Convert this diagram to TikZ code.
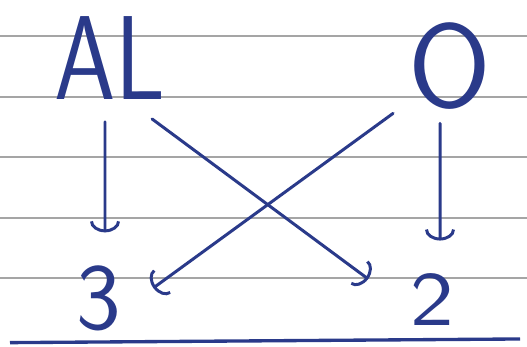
\documentclass[tikz,border=0pt]{standalone}
\usepackage{tikz}
\usetikzlibrary{arrows.meta, positioning, calc}
\usepackage{xcolor}
\definecolor{ink}{RGB}{42,58,138}
\definecolor{rule}{RGB}{165,165,165}

\begin{document}
\begin{tikzpicture}[
        sym/.style={inner sep=0pt, outer sep=0pt, text=ink, font=\sffamily\fontsize{#1}{#1}\selectfont},
        arrow/.style={-{Arc Barb[length=2.2mm, width=6mm]}, ink, line width=1.7pt, line cap=round}
    ]
    \useasboundingbox[fill=white] (0,0) rectangle (10.54,6.94);
    % ruled paper
    \foreach \y in {6.22, 5.0, 3.8, 2.58, 1.38}
        \draw[rule, line width=0.6pt] (0,\y) -- (10.54,\y);
    \node[sym=68, xscale=0.82] (al) at (2.2,5.78) {AL};
    \node[sym=68] (o) at (9.0,5.62) {O};
    \node[sym=54] (three) at (1.98,0.98) {3};
    \node[sym=44, xscale=1.2] (two) at (8.64,0.94) {2};
    \draw[arrow] ([xshift=-0.1cm, yshift=-0.45cm]al.south) -- ([xshift=0.12cm, yshift=0.66cm]three.north);
    \draw[arrow] ([xshift=-0.2cm, yshift=-0.28cm]o.south) -- ([xshift=0.16cm, yshift=0.67cm]two.north);
    \draw[arrow] ([xshift=-0.27cm, yshift=-0.39cm]al.south east) -- ([xshift=-0.84cm, yshift=-0.1cm]two.north west);
    \draw[arrow] ([xshift=-0.31cm, yshift=-0.08cm]o.south west) -- ([xshift=0.64cm, yshift=0.2cm]three.east);
    \draw[ink, line width=1.9pt] ([xshift=-1.78cm, yshift=-0.24cm]three.south) -- ([xshift=1.76cm, yshift=-0.26cm]two.south);
\end{tikzpicture}
\end{document}
